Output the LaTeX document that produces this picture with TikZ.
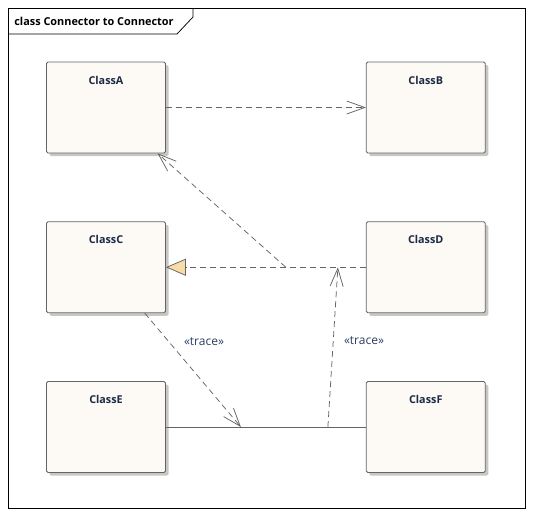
\documentclass[tikz,border=0pt]{standalone}
\usepackage{fontspec}
\setmainfont{Open Sans}
\usepackage{tikz}
\usetikzlibrary{arrows.meta,calc,shadows}
\usetikzlibrary{positioning}

\definecolor{boxfill}{RGB}{253,249,245}
\definecolor{linegray}{RGB}{100,100,100}
\definecolor{realfill}{RGB}{248,220,168}
\definecolor{stereo}{RGB}{40,62,98}

\begin{document}
\begin{tikzpicture}[x=1pt, y=-1pt, line width=0.75pt,
    classbox/.style={rectangle, rounded corners=1.5pt, draw=linegray, fill=boxfill,
        minimum width=119pt, minimum height=91pt, inner sep=0pt,
        drop shadow={shadow xshift=3pt, shadow yshift=-3pt, fill=black!22, opacity=1}},
    classname/.style={anchor=north, inner sep=0pt, yshift=-14pt, text=stereo!70!black,
        font=\fontsize{10.8}{13}\selectfont\bfseries},
    stereotype/.style={inner sep=0pt, text=stereo, font=\fontsize{12}{14}\selectfont},
    dep/.style={draw=linegray, dash pattern=on 6pt off 4pt, -{Straight Barb[length=18pt,width=13pt]}},
    real/.style={draw=linegray, dash pattern=on 6pt off 4pt, -{Triangle[length=20pt,width=17pt,fill=realfill]}},
    every node/.style={node distance=68pt}
    ]
    \useasboundingbox (0,0) rectangle (533,515);

    % frame with title tab
    \draw[black] (8,8) rectangle (525,508);
    \draw[black] (8,34) -- (177,34) -- (193,17) -- (193,8);
    \node[anchor=west, inner sep=0pt, font=\fontsize{10.9}{13}\selectfont\bfseries] (title) at (14,21) {class Connector to Connector};

    % the six classes, row by row
    \def\prevl{A}
    \foreach \l/\r[count=\i from 0, remember=\l as \prevl] in {A/B,C/D,E/F} {
        \ifnum \i = 0
        \node[classbox, label={[classname]north:Class\l}] (\l) at (106,107.5) {};
        \else
        \node[classbox, below=of \prevl, label={[classname]north:Class\l}] (\l) {};
        \fi
        \node[classbox, right=200pt of \l, label={[classname]north:Class\r}] (\r) {};
    }

    % connectors between classes
    \path[dep] (A) -- (B);
    \path[real] (D) -- coordinate[pos=0.14] (DCright) coordinate[pos=0.4] (DCleft) (C);
    \path[draw=linegray] (E) -- coordinate[pos=0.375] (EFleft) coordinate[pos=0.81] (EFright) (F);

    % connectors to connectors
    \path[dep] (DCleft) -- (A);
    \path[dep] (C) -- (EFleft);
    \path[dep] (EFright) -- (DCright);

    \node[stereotype] (traceleft) at (204,342) {«trace»};
    \node[stereotype] (traceright) at (364,341) {«trace»};
\end{tikzpicture}
\end{document}
